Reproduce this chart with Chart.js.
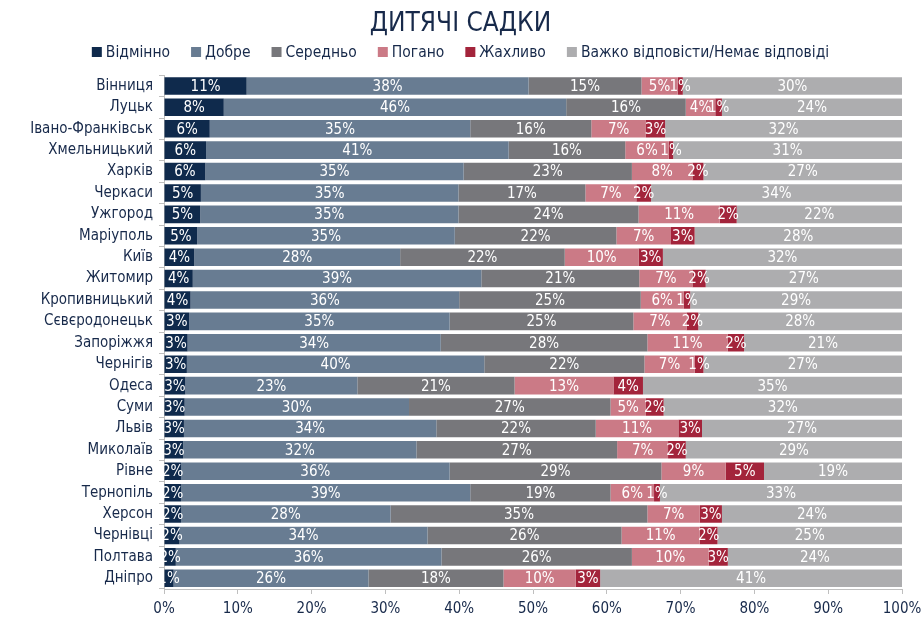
<!DOCTYPE html>
<html lang="uk">
<head>
<meta charset="utf-8">
<title>Дитячі садки</title>
<script src="https://cdn.jsdelivr.net/npm/chart.js@4"></script>
<style>
  html, body { margin: 0; padding: 0; background: #fff; }
  #wrap { width: 921px; height: 618px; position: relative; }
</style>
</head>
<body>
<div id="wrap"><canvas id="kindergartens"></canvas></div>
<script>
// ---- data (% of answers) ----
const cities = ["Вінниця", "Луцьк", "Івано-Франківськ", "Хмельницький", "Харків", "Черкаси",
    "Ужгород", "Маріуполь", "Київ", "Житомир", "Кропивницький", "Сєвєродонецьк",
    "Запоріжжя", "Чернігів", "Одеса", "Суми", "Львів", "Миколаїв",
    "Рівне", "Тернопіль", "Херсон", "Чернівці", "Полтава", "Дніпро"];

const excellent = [11.2, 8.1, 6.2, 5.7, 5.6, 5.0, 4.9, 4.5, 4.1, 3.9, 3.6, 3.4,
    3.2, 3.1, 2.9, 2.8, 2.7, 2.6, 2.3, 2.3, 2.3, 2.1, 1.6, 1.3];
const good = [38.2, 46.4, 35.3, 41.0, 35.0, 34.9, 35.0, 34.9, 27.9, 39.1, 36.4, 35.3,
    34.3, 40.3, 23.3, 30.4, 34.2, 31.6, 36.4, 39.2, 28.4, 33.6, 36.0, 26.4];
const average = [15.3, 16.2, 16.4, 15.8, 22.8, 17.2, 24.4, 21.9, 22.3, 21.4, 24.6, 24.9,
    28.0, 21.7, 21.3, 27.3, 21.6, 27.2, 28.7, 19.0, 34.8, 26.3, 25.8, 18.3];
const bad = [4.9, 4.0, 7.4, 5.9, 8.2, 6.9, 11.0, 7.4, 10.0, 7.2, 5.8, 7.2,
    10.9, 6.8, 13.4, 4.8, 11.2, 6.9, 8.7, 5.9, 7.1, 10.6, 10.4, 9.8];
const terrible = [0.7, 0.9, 2.6, 0.6, 1.5, 2.0, 2.3, 3.2, 3.3, 1.8, 0.9, 1.6,
    2.2, 1.2, 4.0, 2.4, 3.2, 2.4, 5.2, 0.8, 3.0, 2.4, 2.6, 3.3];
const noAnswer = [29.7, 24.4, 32.1, 31.0, 26.9, 34.0, 22.4, 28.1, 32.4, 26.6, 28.7, 27.6,
    21.4, 26.9, 35.1, 32.3, 27.1, 29.3, 18.7, 32.8, 24.4, 25.0, 23.6, 40.9];

const seriesNames = ["Відмінно", "Добре", "Середньо", "Погано", "Жахливо", "Важко відповісти/Немає відповіді"];
const seriesColors = ["#0f2a4c", "#687c92", "#77777b", "#cb7a86", "#a3243b", "#adadaf"];
const xTicks = [0, 10, 20, 30, 40, 50, 60, 70, 80, 90, 100];

const NAVY = "#17294a";
const FONT = "'Liberation Sans Narrow', 'DejaVu Sans Condensed', 'Roboto', sans-serif";

// =============== value labels inside the bars ===============
const barLabels = {
    id: "barLabels",
    afterDatasetsDraw(chart) {
        const ctx = chart.ctx;
        ctx.save();
        ctx.font = "15px " + FONT;
        ctx.fillStyle = "#ffffff";
        ctx.textAlign = "center";
        ctx.textBaseline = "middle";
        chart.data.datasets.forEach((ds, i) => {
            const meta = chart.getDatasetMeta(i);
            meta.data.forEach((bar, j) => {
                const v = ds.data[j];
                if (!v) return;
                ctx.fillText(Math.round(v) + "%", (bar.x + bar.base) / 2, bar.y + 1);
            });
        });
        ctx.restore();
    }
};

// =============== legend row under the title (drawn by hand for spacing) ===============
const topLegend = {
    id: "topLegend",
    afterDraw(chart) {
        const ctx = chart.ctx;
        const box = 10, gapText = 4, gapItem = 21, y = 52;
        ctx.save();
        ctx.font = "15.5px " + FONT;
        ctx.textBaseline = "middle";
        ctx.textAlign = "left";
        const widths = seriesNames.map(n => ctx.measureText(n).width);
        const total = widths.reduce((a, w) => a + box + gapText + w, 0) + gapItem * (seriesNames.length - 1);
        let x = chart.width / 2 - total / 2;
        seriesNames.forEach((name, i) => {
            ctx.fillStyle = seriesColors[i];
            ctx.fillRect(x, y - box / 2, box, box);
            ctx.fillStyle = NAVY;
            ctx.fillText(name, x + box + gapText, y + 1);
            x += box + gapText + widths[i] + gapItem;
        });
        ctx.restore();
    }
};

const allSeries = [excellent, good, average, bad, terrible, noAnswer];

new Chart(document.getElementById("kindergartens").getContext("2d"), {
    type: "bar",
    data: {
        labels: cities,
        datasets: allSeries.map((arr, i) => ({
            label: seriesNames[i],
            data: arr,
            backgroundColor: seriesColors[i],
            borderWidth: 0,
            barPercentage: 0.82,
            categoryPercentage: 1.0
        }))
    },
    options: {
        indexAxis: "y",
        responsive: true,
        maintainAspectRatio: false,
        animation: false,
        layout: { padding: { left: 0, right: 0, top: 0, bottom: -6 } },
        plugins: {
            title: {
                display: true,
                text: "ДИТЯЧІ САДКИ",
                color: NAVY,
                font: { family: FONT, size: 26, weight: "normal" },
                padding: { top: 9, bottom: 35 }
            },
            legend: { display: false },
            tooltip: { enabled: false }
        },
        scales: {
            x: {
                stacked: true,
                min: 0,
                max: 100,
                afterBuildTicks: scale => { scale.ticks = xTicks.map(v => ({ value: v })); },
                afterFit: scale => { scale.paddingRight = 19; },
                grid: { drawOnChartArea: false, drawTicks: true, tickLength: 5, color: "#bfbfbf" },
                border: { display: true, color: "#bfbfbf" },
                ticks: {
                    color: NAVY,
                    padding: 6,
                    font: { family: FONT, size: 15 },
                    callback: v => v + "%"
                }
            },
            y: {
                stacked: true,
                afterFit: scale => { scale.width = 164; },
                grid: { drawOnChartArea: false, drawTicks: true, tickLength: 5, color: "#bfbfbf", offset: true },
                border: { display: true, color: "#bfbfbf" },
                ticks: {
                    color: NAVY,
                    padding: 6,
                    autoSkip: false,
                    font: { family: FONT, size: 15 }
                }
            }
        }
    },
    plugins: [barLabels, topLegend]
});
</script>
</body>
</html>
